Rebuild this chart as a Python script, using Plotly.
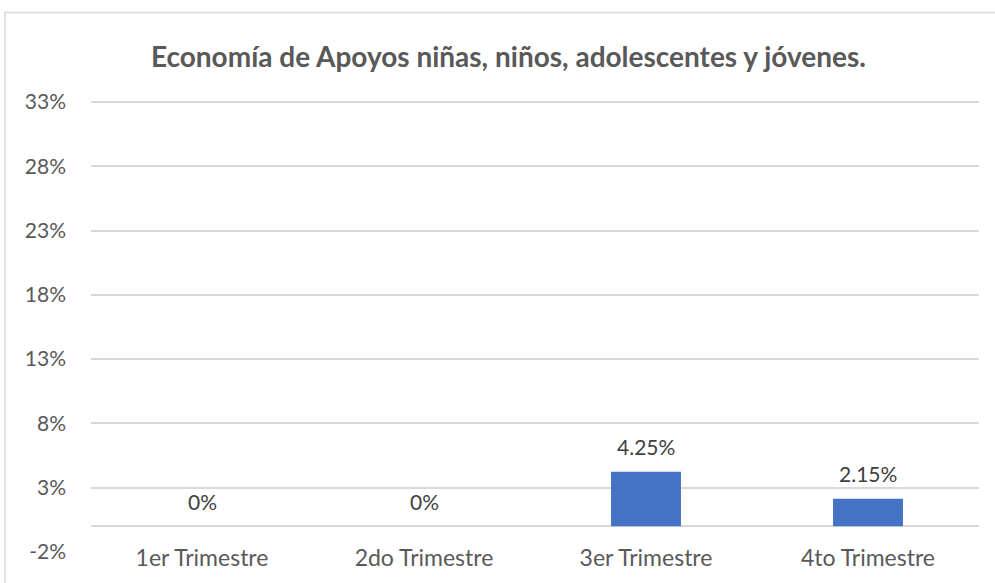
import plotly.graph_objects as go

categories = ["1er Trimestre", "2do Trimestre", "3er Trimestre", "4to Trimestre"]
values = [0, 0, 4.25, 2.15]
y_ticks = [-2, 3, 8, 13, 18, 23, 28, 33]
y_tick_labels = ["-2%", "3%", "8%", "13%", "18%", "23%", "28%", "33%"]
title_text = "Economía de Apoyos niñas, niños, adolescentes y jóvenes."

FONT = "Lato"
GRID = "#d9d9d9"

fig = go.Figure()
fig.add_trace(go.Bar(x=categories, y=values, marker_color="#4472C4",
                     marker_line_width=0, hoverinfo="x+y"))

for c, v in zip(categories, values):
    fig.add_annotation(x=c, y=v, xref="x", yref="y", text=f"{v:g}%",
                       showarrow=False, yanchor="middle", yshift=25,
                       font=dict(family=FONT, size=21, color="#404040"))

# chart border (plot area spans 456 px tall, 888 px wide)
fig.add_shape(type="rect", xref="paper", yref="paper",
              x0=-86 / 888, x1=1.1, y0=-0.2, y1=(554 - 12) / 456,
              line=dict(color=GRID, width=1.5), fillcolor="rgba(0,0,0,0)",
              layer="below")

fig.update_layout(
    width=995, height=583,
    margin=dict(l=91, r=16, t=98, b=29),
    paper_bgcolor="white", plot_bgcolor="white",
    showlegend=False, bargap=0.685,
    title=dict(text=f"<b>{title_text}</b>", x=0.511, xanchor="center",
               y=1 - 57 / 583, yanchor="middle",
               font=dict(family=FONT, size=28, color="#595959")),
    xaxis=dict(showgrid=False, showline=False, ticks="", zeroline=False,
               tickfont=dict(family=FONT, size=23, color="#595959"),
               ticklabelstandoff=-10),
    yaxis=dict(range=[-2, 33.31], tickvals=y_ticks, ticktext=y_tick_labels,
               tickmode="array",
               showgrid=True, gridcolor=GRID, gridwidth=1.5,
               zeroline=True, zerolinecolor=GRID, zerolinewidth=1.5,
               showline=False, ticks="", ticklabelstandoff=24,
               tickfont=dict(family=FONT, size=21, color="#595959")),
)

fig.write_html("out.html", config={"displayModeBar": False},
               post_script="document.body.style.margin='0';")
